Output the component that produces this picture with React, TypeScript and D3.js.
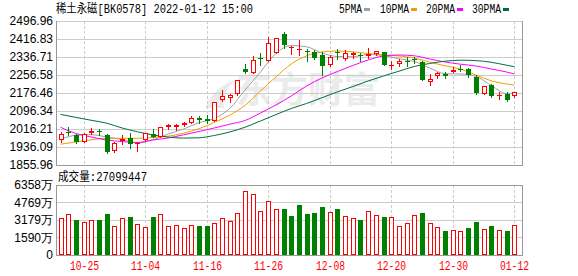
import React from "react";
import * as d3 from "d3";

const dates = [
  "10-20","10-21","10-22","10-25","10-26","10-27","10-28","10-29",
  "11-01","11-02","11-03","11-04","11-05","11-08","11-09","11-10","11-11","11-12","11-15","11-16","11-17","11-18","11-19","11-22","11-23","11-24","11-25","11-26","11-29","11-30",
  "12-01","12-02","12-03","12-06","12-07","12-08","12-09","12-10","12-13","12-14","12-15","12-16","12-17","12-20","12-21","12-22","12-23","12-24","12-27","12-28","12-29","12-30","12-31",
  "01-04","01-05","01-06","01-07","01-10","01-11","01-12",
];
const open = [1968.6,2002,1989.5,1959.7,2000.6,2009.5,1989.5,1919.2,1965,1976,1949.4,1965.9,1993.9,1982.8,2023.8,2022.9,2032.7,2044.2,2063,2058.5,2053.2,2144.4,2152.9,2170.7,2283.3,2264.2,2332.3,2321.1,2356.7,2438.2,2379,2370.1,2364.3,2357.6,2347.8,2303.3,2359,2330,2343.4,2347.8,2341.2,2348.7,2358.1,2298.9,2305.6,2321.1,2327.8,2314.5,2225.4,2252.1,2261,2271.3,2284,2282,2249.9,2170.7,2211.2,2166.2,2169.8,2161.8];
const high = [2001,2026.5,1994,1999.7,2020.7,2014.9,1992.6,1958.3,1989.5,1998.4,1959.7,2000.6,2016,2025,2037,2037,2048.7,2075.4,2075,2078.5,2136.4,2188.5,2170.7,2236.5,2304.2,2341.2,2352.3,2427,2421.3,2445.8,2384.4,2410.2,2372.3,2367.9,2360.3,2345.6,2370.1,2367.9,2359,2352.3,2375.4,2365.6,2360.3,2318.9,2325.6,2334.5,2335.4,2316.7,2261,2271.3,2271.3,2290,2301,2288.6,2256.6,2209.8,2214.3,2180.9,2182.3,2180.9];
const low = [1959.7,1987.3,1953,1958,1996,1990.8,1910.7,1916,1948,1930,1919.6,1962.8,1980.6,1980.6,2018,2009.6,2029.6,2040.7,2045,2040.7,2051.8,2140.8,2138.6,2167.6,2263.3,2263.3,2303.3,2318.9,2354.5,2374.6,2350,2343.4,2321.1,2330,2256.6,2298,2327.8,2323.4,2330.9,2316.7,2330.9,2345.6,2301,2283.3,2298,2296.6,2308.7,2234.3,2212,2241.9,2244.6,2269.9,2273,2249.9,2169.8,2169.8,2160,2148.4,2141.7,2160];
const close = [1992.6,1999,1957,1992.6,2007.3,2002.9,1915.2,1954.8,1969.5,1948,1953.9,1998.4,1982.8,2023.8,2034,2032.7,2042.9,2065.2,2056.3,2051.8,2135,2164.4,2167.6,2234.3,2271.3,2323.4,2325.6,2397.7,2419.9,2390.1,2382.1,2373.2,2361.2,2331,2295.3,2336.7,2354.5,2356.7,2352.3,2341.9,2350.1,2361.2,2303.3,2303.3,2316.7,2317.5,2323.4,2236.5,2241,2263.3,2252.1,2280,2281.5,2254.4,2175.1,2207.6,2164,2168.4,2145.3,2178.7];
const volume = [3333,3724,3179,2997,3179,3179,3724,2634,3361,3452,2816,2543,3452,3724,2634,2725,2452,2725,2634,2634,2907,3361,3088,3815,5813,5541,3997,4905,4178,4178,3542,4542,3724,3815,4360,3878,4178,3515,3333,3179,3969,3606,3452,3424,2607,2879,3606,3815,2879,2516,2180,2243,2153,2452,2997,2334,2634,2243,2180,2710];
const volumeUp = [1,1,0,1,1,0,0,1,1,0,1,1,0,1,1,1,1,1,0,0,1,1,1,1,1,1,1,1,1,0,0,0,0,0,0,1,0,1,1,0,1,1,0,1,1,1,1,0,1,1,0,1,1,0,0,1,0,1,0,1];

const maIndex = [0,2,4,6,8,10,12,14,16,18,20,22,24,26,28,30,32,34,36,38,40,42,44,46,48,50,52,54,56,58,59];
const ma5 = [1970.4,1988.2,1990.8,1980.6,1969.5,1953.9,1968.6,1993.9,2016.2,2044.3,2063,2107.5,2189.8,2269.9,2352.3,2387.9,2382.1,2354.5,2338.9,2338,2347.8,2343.4,2328.7,2316.7,2287.7,2262.4,2261,2250.4,2209.8,2173.8,2175.6];
const ma10 = [1948.6,1958.3,1968.1,1974.8,1974.8,1974.8,1978.4,1984.2,1997.6,2017.6,2045.6,2077.6,2121.7,2185.4,2247.7,2305.6,2342,2358.9,2363.4,2359.9,2352.3,2345.6,2341.2,2332.3,2313.6,2297.6,2283.3,2256.6,2230.8,2216.6,2212.1];
const ma20 = [2023.8,1996.2,1980.6,1967.3,1960.2,1956.2,1967.3,1976.2,1990.4,2005.1,2020.7,2037.6,2054.1,2087.5,2123.1,2163.1,2207.7,2243.3,2272.2,2298.9,2323.4,2341.2,2345.6,2342.1,2327.8,2314.5,2304.7,2296.7,2283.3,2270,2261.1];
const ma30 = [2081.2,2067.9,2055,2042.1,2020.7,2003.8,1990,1980.2,1975.7,1977.1,1987.3,2002.9,2024.3,2051.8,2080.3,2107.5,2129.8,2155.6,2181.4,2205,2229.9,2252.2,2273.5,2294.5,2307.8,2318.1,2322.5,2320.7,2313.2,2300.2,2293.6];

const priceTicks = [2496.96,2416.83,2336.71,2256.58,2176.46,2096.34,2016.21,1936.09,1855.96];
const volTicks = [6358,4769,3179,1590,0];
const volTickLabels = ["6358万","4769万","3179万","1590万","0"];
const dateLabels = ["10-25","11-04","11-16","11-26","12-08","12-20","12-30","01-12"];
const legendNames = ["5PMA","10PMA","20PMA","30PMA"];
const maColors = ["#a0a0a0","#f0a000","#ff00ff","#006f3c"];
const title = "稀土永磁[BK0578] 2022-01-12 15:00";
const volumeTitle = "成交量:27099447";

const W = 578, H = 276;
const L = 56, R = 522;
const PT = 21, PB = 165, VT = 185, VB = 255;
const UP = "#ff0000", DOWN = "#008000";
const MONO = "'Liberation Mono','Noto Sans CJK SC',monospace";
const SANS = "'Liberation Sans',Arial,sans-serif";

export default function App() {
  const x = d3.scalePoint<string>().domain(dates).range([60.5, 514.3]);
  const y = d3.scaleLinear().domain([1855.96, 2496.96]).range([PB, PT]);
  const yv = d3.scaleLinear().domain([0, 6358]).range([VB, VT]);
  const cx = (i: number) => Math.round(x(dates[i]) as number);
  const mas = [ma5, ma10, ma20, ma30];
  const line = d3
    .line<number>()
    .x((_, k) => x(dates[maIndex[k]]) as number)
    .y((v) => y(v))
    .curve(d3.curveMonotoneX);

  const legendX = [339, 380, 426, 472];
  const legendW = [24, 30, 30, 30];

  return (
    <svg width={W} height={H} style={{ position: "absolute", left: 0, top: 0, background: "#fff" }}>
      <rect x={0} y={0} width={W} height={H} fill="#fff" />
      {/* title */}
      <text x={56} y={13} fontFamily={MONO} fontSize={12} fill="#000" textLength={197} lengthAdjust="spacingAndGlyphs">{title}</text>
      {/* legend */}
      {legendNames.map((n, k) => (
        <g key={n}>
          <text x={legendX[k]} y={13} fontFamily={MONO} fontSize={12} fill="#000" textLength={legendW[k] - 1} lengthAdjust="spacingAndGlyphs">{n}</text>
          <rect x={legendX[k] + legendW[k] + 1} y={8} width={6} height={3} fill={maColors[k]} />
        </g>
      ))}
      {/* watermark */}
      <text x={236} y={103} fontFamily="'Noto Sans CJK SC',sans-serif" fontWeight={700} fontSize={36} fill="#ebebeb">东方财富</text>
      <path d="M205,108 C212,92 222,84 236,80 C226,88 222,96 224,108 Z" fill="#ebebeb" />
      {/* price grid */}
      {priceTicks.map((t, k) => (
        <g key={t}>
          {k > 0 && k < priceTicks.length - 1 && (
            <line x1={L} x2={R} y1={Math.round(y(t)) + 0.5} y2={Math.round(y(t)) + 0.5} stroke="#cccccc" />
          )}
          <text x={53} y={y(t)} dy="0.36em" textAnchor="end" fontFamily={SANS} fontSize={12} fill="#000">{t.toFixed(2)}</text>
        </g>
      ))}
      <line x1={L} x2={R} y1={PT + 0.5} y2={PT + 0.5} stroke="#cccccc" />
      {/* vertical dashed grid */}
      {dateLabels.map((d) => {
        const gx = cx(dates.indexOf(d)) + 0.5;
        return (
          <g key={d}>
            <line x1={gx} x2={gx} y1={PT} y2={PB} stroke="#cccccc" strokeDasharray="3,2" />
            <line x1={gx} x2={gx} y1={VT} y2={VB} stroke="#cccccc" strokeDasharray="3,2" />
            <text x={gx} y={270} textAnchor="middle" fontFamily={MONO} fontSize={12} fill="#ff0000" textLength={29} lengthAdjust="spacingAndGlyphs">{d}</text>
          </g>
        );
      })}
      {/* MA lines */}
      {mas.map((m, k) => (
        <path key={k} d={line(m) || ""} fill="none" stroke={maColors[k]} strokeWidth={1} />
      ))}
      {/* candles */}
      {dates.map((d, i) => {
        const c = cx(i);
        const up = close[i] >= open[i];
        const col = up ? UP : DOWN;
        const yo = Math.round(y(open[i]));
        const yc = Math.round(y(close[i]));
        const top = Math.min(yo, yc);
        const h = Math.max(Math.abs(yo - yc), 1);
        return (
          <g key={d}>
            <line x1={c + 0.5} x2={c + 0.5} y1={Math.round(y(high[i]))} y2={Math.round(y(low[i])) + 1} stroke={col} />
            {up ? (
              <rect x={c - 1.5} y={top + 0.5} width={4} height={Math.max(h - 1, 0.01)} fill="#fff" stroke={col} shapeRendering="crispEdges" />
            ) : (
              <rect x={c - 2} y={top} width={5} height={h} fill={col} shapeRendering="crispEdges" />
            )}
          </g>
        );
      })}
      {/* price frame */}
      <line x1={L + 0.5} x2={L + 0.5} y1={PT} y2={PB + 1} stroke="#999" />
      <line x1={R + 0.5} x2={R + 0.5} y1={PT} y2={PB + 1} stroke="#999" />
      <line x1={L} x2={R + 1} y1={PB + 0.5} y2={PB + 0.5} stroke="#999" />

      {/* volume */}
      <text x={58} y={181} fontFamily={MONO} fontSize={12} fill="#000" textLength={89} lengthAdjust="spacingAndGlyphs">{volumeTitle}</text>
      {volTicks.map((t, k) => (
        <g key={t}>
          {k > 0 && k < volTicks.length - 1 && (
            <line x1={L} x2={R} y1={Math.round(yv(t)) + 0.5} y2={Math.round(yv(t)) + 0.5} stroke="#cccccc" />
          )}
          <text x={53} y={yv(t)} dy="0.36em" textAnchor="end" fontFamily={SANS} fontSize={12} fill="#000">{volTickLabels[k]}</text>
        </g>
      ))}
      {dates.map((d, i) => {
        const c = cx(i);
        const top = Math.round(yv(volume[i]));
        return volumeUp[i] ? (
          <rect key={d} x={c - 1.5} y={top + 0.5} width={4} height={VB - top - 1} fill="#fff" stroke={UP} shapeRendering="crispEdges" />
        ) : (
          <rect key={d} x={c - 2} y={top} width={5} height={VB - top} fill={DOWN} shapeRendering="crispEdges" />
        );
      })}
      <rect x={L + 0.5} y={VT + 0.5} width={R - L} height={VB - VT} fill="none" stroke="#999" />
    </svg>
  );
}
